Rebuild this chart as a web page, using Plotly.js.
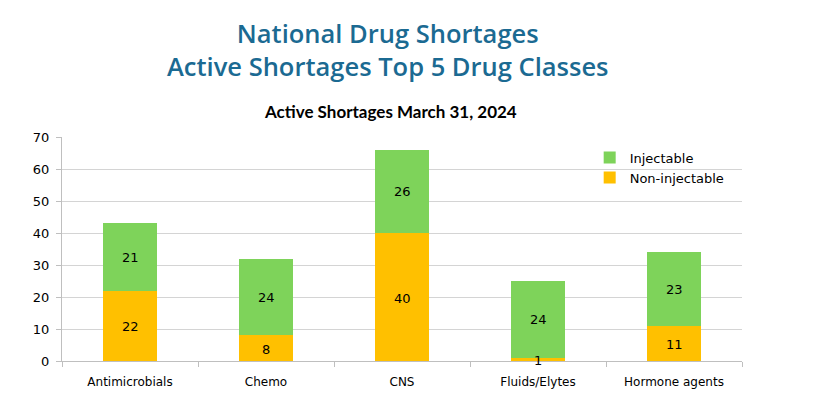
<!DOCTYPE html>
<html>
<head>
<meta charset="utf-8">
<script src="https://cdn.plot.ly/plotly-3.0.1.min.js"></script>
<style>html,body{margin:0;padding:0;background:#fff;}#chart{width:820px;height:404px;}</style>
</head>
<body>
<div id="chart"></div>
<script>
const categories = ["Antimicrobials", "Chemo", "CNS", "Fluids/Elytes", "Hormone agents"];
const nonInjectable = [22, 8, 40, 1, 11];
const injectable = [21, 24, 26, 24, 23];
const yTicks = [0, 10, 20, 30, 40, 50, 60, 70];

const labelFont = {family: "DejaVu Sans, sans-serif", size: 13, color: "#000"};

const traces = [
  {
    type: "bar", name: "Non-injectable", x: categories, y: nonInjectable,
    marker: {color: "#ffc000", line: {width: 0}}, hoverinfo: "none"
  },
  {
    type: "bar", name: "Injectable", x: categories, y: injectable,
    marker: {color: "#7ed35a", line: {width: 0}}, hoverinfo: "none"
  }
];

// segment labels centred on each stacked segment, placed through the axes
const labelAnnotations = [];
categories.forEach((c, i) => {
  labelAnnotations.push({x: c, y: nonInjectable[i] / 2, xref: "x", yref: "y", yshift: -1,
    text: String(nonInjectable[i]), showarrow: false, font: labelFont});
  labelAnnotations.push({x: c, y: nonInjectable[i] + injectable[i] / 2, xref: "x", yref: "y",
    text: String(injectable[i]), showarrow: false, font: labelFont});
});

const titleFont = {family: "Open Sans, sans-serif", size: 25.5, color: "#1b6a92", weight: 600};

const layout = {
  width: 820, height: 404,
  margin: {l: 62, r: 78, t: 137, b: 43},
  paper_bgcolor: "#fff", plot_bgcolor: "#fff",
  barmode: "stack", bargap: 0.6,
  showlegend: true,
  legend: {
    x: 0.776, y: 0.975, xanchor: "left", yanchor: "top",
    bgcolor: "rgba(0,0,0,0)", tracegroupgap: 0, itemwidth: 30,
    font: {family: "DejaVu Sans, sans-serif", size: 13, color: "#000"},
    traceorder: "reversed"
  },
  annotations: [
    {text: "National Drug Shortages<br>Active Shortages Top 5 Drug Classes",
      xref: "paper", yref: "paper", x: 0.48, y: 1.392, align: "center",
      xanchor: "center", yanchor: "middle", showarrow: false, font: titleFont},
    {text: "<b>Active Shortages March 31, 2024</b>", xref: "paper", yref: "paper",
      x: 0.483, y: 1.116, xanchor: "center", yanchor: "middle", showarrow: false,
      font: {family: "Lato, sans-serif", size: 17, color: "#000"}}
  ].concat(labelAnnotations),
  xaxis: {
    type: "category", tickson: "boundaries", ticks: "outside", ticklen: 5, tickcolor: "#bfbfbf",
    showline: true, linecolor: "#bfbfbf", linewidth: 1, showgrid: false,
    ticklabelstandoff: 10,
    tickfont: {family: "DejaVu Sans, sans-serif", size: 12, color: "#000"}, fixedrange: true
  },
  yaxis: {
    range: [0, 70], tickvals: yTicks, ticktext: yTicks.map(String),
    ticks: "outside", ticklen: 5, tickcolor: "#bfbfbf",
    showline: true, linecolor: "#bfbfbf", linewidth: 1,
    showgrid: true, gridcolor: "#d4d4d4", gridwidth: 1, zeroline: false,
    ticklabelstandoff: 4,
    tickfont: {family: "DejaVu Sans, sans-serif", size: 13, color: "#000"}, fixedrange: true
  }
};

Plotly.newPlot("chart", traces, layout, {displayModeBar: false, staticPlot: true});
</script>
</body>
</html>
